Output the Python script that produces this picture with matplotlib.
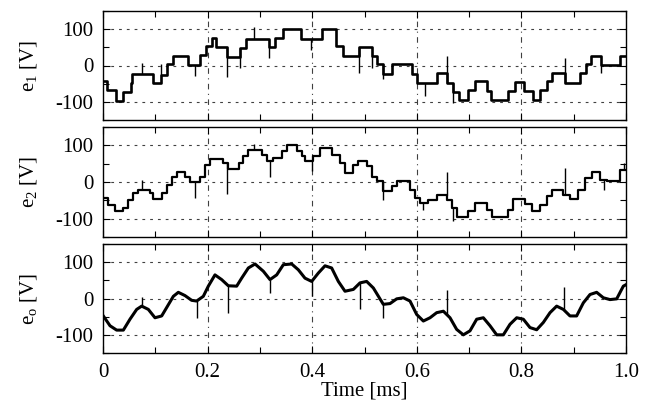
import numpy as np
import matplotlib
matplotlib.use("Agg")
import matplotlib.pyplot as plt
from matplotlib.ticker import MultipleLocator

# ---------------- data ----------------
# e1: staircase levels (start time [ms], level [V])
e1_t = [0.0, 0.0083, 0.025, 0.039, 0.053, 0.056, 0.096, 0.110, 0.122, 0.133, 0.163,
        0.185, 0.197, 0.208, 0.216, 0.238, 0.262, 0.273, 0.318, 0.329, 0.345, 0.378,
        0.418, 0.4455, 0.459, 0.490, 0.515, 0.523, 0.536, 0.553, 0.591, 0.601, 0.638,
        0.658, 0.669, 0.681, 0.698, 0.711, 0.734, 0.741, 0.775, 0.788, 0.805, 0.8215,
        0.836, 0.848, 0.858, 0.883, 0.913, 0.924, 0.934, 0.952, 0.9885]
e1_v = [-43, -68, -97, -73, -47, -23, -47, -25, 3, 27, 1,
        30, 53, 77, 51, 24, 48, 74, 51, 75, 101, 74,
        101, 53, 27, 51, 25, 5, -23, 5, -23, -47, -22,
        -47, -73, -95, -68, -43, -70, -95, -70, -45, -70, -95,
        -68, -43, -21, -47, -20, 5, 27, 1, 27]
e1_spike_t = [0.074, 0.110, 0.176, 0.2377, 0.262, 0.2887, 0.318, 0.397, 0.490,
              0.515, 0.535, 0.616, 0.658, 0.6686, 0.883, 0.952]
e1_spike_v = [7, 4, -29, -32, -6, 107, 21, 44, -20,
              -6, -38, -84, 27, -102, 21, -20]

# e2: finer staircase
e2_t = [0.0, 0.0102, 0.0229, 0.0389, 0.0485, 0.0580, 0.0676, 0.0899, 0.0963, 0.1122,
        0.1217, 0.1313, 0.1409, 0.1568, 0.1664, 0.1855, 0.1950, 0.2046, 0.2300, 0.2396,
        0.2607, 0.2683, 0.2779, 0.3034, 0.3130, 0.3257, 0.3417, 0.3512, 0.3703, 0.3799,
        0.3862, 0.4022, 0.4149, 0.4372, 0.4532, 0.4627, 0.4787, 0.4882, 0.5041, 0.5137,
        0.5233, 0.5360, 0.5520, 0.5615, 0.5870, 0.5966, 0.6061, 0.6221, 0.6380, 0.6571,
        0.6667, 0.6762, 0.6985, 0.7113, 0.7336, 0.7431, 0.7744, 0.7846, 0.8069, 0.8196,
        0.8356, 0.8483, 0.8579, 0.8802, 0.8929, 0.9088, 0.9216, 0.9343, 0.9503, 0.9630,
        0.9885]
e2_v = [-44, -62, -80, -71, -48, -30, -21, -30, -45, -30,
        -7, 15, 26, 15, 0, 15, 47, 62, 52, 36,
        52, 70, 86, 75, 56, 65, 84, 100, 84, 70,
        56, 70, 93, 75, 52, 25, 47, 56, 43, 15,
        2, -24, -12, 2, -21, -44, -57, -48, -35, -48,
        -71, -96, -80, -57, -75, -96, -75, -46, -59, -80,
        -62, -39, -21, -35, -46, -21, 11, 27, 5, 2,
        34]
e2_spike_t = [0.074, 0.176, 0.2377, 0.289, 0.319, 0.399, 0.535, 0.612, 0.657,
              0.669, 0.883, 0.9577, 0.997]
e2_spike_v = [6, -44, -32, 104, 15, 29, -48, -75, 26,
              -107, 38, -23, 52]

# eo: output voltage samples
eo_t = [0.0006, 0.0134, 0.0261, 0.0389, 0.0516, 0.0644, 0.0740, 0.0867, 0.0994, 0.1122,
        0.1217, 0.1345, 0.1440, 0.1568, 0.1695, 0.1791, 0.1918, 0.2014, 0.2141, 0.2269,
        0.2396, 0.2556, 0.2651, 0.2779, 0.2907, 0.3066, 0.3193, 0.3321, 0.3448, 0.3608,
        0.3735, 0.3862, 0.3990, 0.4117, 0.4245, 0.4372, 0.4500, 0.4627, 0.4787, 0.4914,
        0.5041, 0.5169, 0.5296, 0.5360, 0.5488, 0.5615, 0.5743, 0.5870, 0.5998, 0.6125,
        0.6253, 0.6380, 0.6508, 0.6635, 0.6762, 0.6890, 0.7017, 0.7145, 0.7272, 0.7400,
        0.7527, 0.7655, 0.7782, 0.7910, 0.8037, 0.8164, 0.8292, 0.8419, 0.8547, 0.8674,
        0.8802, 0.8929, 0.9056, 0.9184, 0.9312, 0.9439, 0.9567, 0.9694, 0.9822, 0.9949,
        1.0]
eo_v = [-48, -75, -87, -87, -57, -30, -21, -30, -53, -48,
        -25, 6, 17, 8, -5, -7, 6, 34, 65, 52,
        35, 34, 56, 84, 95, 75, 52, 65, 93, 95,
        79, 56, 47, 70, 90, 84, 47, 20, 25, 43,
        47, 29, -1, -16, -14, -1, 2, -7, -44, -62,
        -53, -39, -35, -53, -85, -100, -89, -57, -53, -75,
        -100, -100, -71, -53, -57, -80, -86, -66, -39, -21,
        -30, -48, -48, -12, 11, 17, 2, -3, -1, 34,
        38]
eo_spike_t = [0.074, 0.179, 0.2396, 0.3193, 0.399, 0.4914, 0.536, 0.658, 0.8815]
eo_spike_v = [5, -55, -39, 15, 6, -28, -55, 23, 32]

x_ticks = [0, 0.2, 0.4, 0.6, 0.8, 1.0]
x_ticklabels = ["0", "0.2", "0.4", "0.6", "0.8", "1.0"]
y_ticks = [-100, 0, 100]
y_labels = ["e$_\\mathregular{1}$ [V]", "e$_\\mathregular{2}$ [V]", "e$_\\mathregular{o}$ [V]"]

# ---------------- figure ----------------
plt.rcParams["font.family"] = ["Liberation Serif", "DejaVu Serif"]
plt.rcParams["mathtext.fontset"] = "custom"
plt.rcParams["mathtext.rm"] = "Liberation Serif"

fig = plt.figure(figsize=(6.57, 4.05), dpi=100)
L, R = 103 / 657, 626 / 657
tops = [11, 127, 244]
bots = [120, 237, 353]
axes = []
for tp, bt in zip(tops, bots):
    ax = fig.add_axes([L, 1 - bt / 405, R - L, (bt - tp) / 405])
    axes.append(ax)


def level_at(ts, vs, t):
    i = np.searchsorted(ts, t, side="right") - 1
    return vs[max(i, 0)]


def draw_steps(ax, ts, vs, st, sv, lw):
    ts_e = list(ts) + [1.0]
    vs_e = list(vs) + [vs[-1]]
    ax.step(ts_e, vs_e, where="post", color="black", lw=lw)
    base = [level_at(ts, vs, t) for t in st]
    ax.vlines(st, base, sv, color="black", lw=1.0)


draw_steps(axes[0], e1_t, e1_v, e1_spike_t, e1_spike_v, 1.9)
draw_steps(axes[1], e2_t, e2_v, e2_spike_t, e2_spike_v, 1.6)
axes[2].plot(eo_t, eo_v, color="black", lw=2.2)
base_o = np.interp(eo_spike_t, eo_t, eo_v)
axes[2].vlines(eo_spike_t, base_o, eo_spike_v, color="black", lw=1.0)

for i, ax in enumerate(axes):
    ax.set_xlim(0, 1.0)
    ax.set_ylim(-150, 150)
    ax.set_xticks(x_ticks)
    ax.xaxis.set_minor_locator(MultipleLocator(0.1))
    ax.set_yticks(y_ticks)
    ax.set_yticklabels([str(v) for v in y_ticks])
    ax.yaxis.set_minor_locator(MultipleLocator(50))
    ax.tick_params(which="both", direction="in", top=True, right=True,
                   labelsize=15, width=0.8, color="black")
    ax.tick_params(which="major", length=5, pad=7)
    ax.tick_params(which="minor", length=4)
    for s in ax.spines.values():
        s.set_linewidth(1.0)
    for xv in x_ticks[1:-1]:
        ax.axvline(xv, color="0.25", lw=0.8, ls=(0, (5, 4, 1, 4)), zorder=0)
    for yv in y_ticks:
        ax.axhline(yv, color="0.25", lw=0.8, ls=(0, (2.5, 4.5)), zorder=0)
    ax.set_ylabel(y_labels[i], fontsize=15, labelpad=11)
    if i < 2:
        ax.set_xticklabels([])
    else:
        ax.set_xticklabels(x_ticklabels)
        ax.set_xlabel("Time [ms]", fontsize=15, labelpad=0)

fig.align_ylabels(axes)
fig.savefig("out.png", dpi=100)
